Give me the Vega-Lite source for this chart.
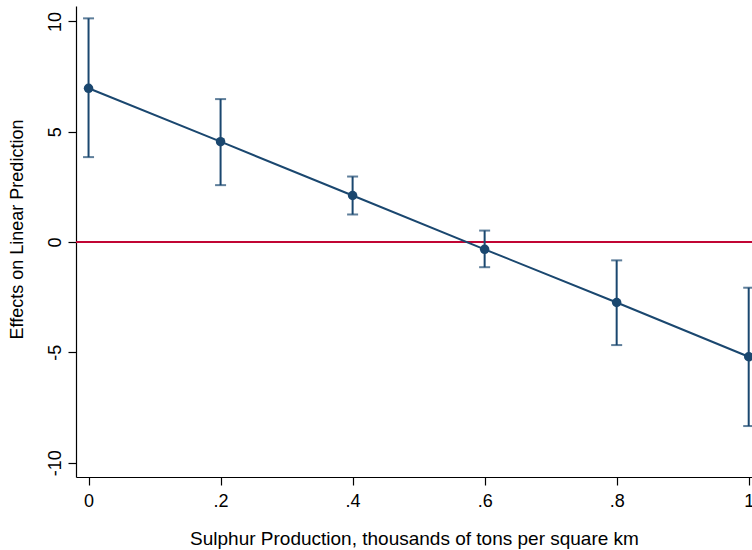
{
  "$schema": "https://vega.github.io/schema/vega-lite/v6.json",
  "width": 676,
  "height": 471,
  "autosize": "none",
  "padding": {"left": 76, "top": 6, "right": 0, "bottom": 73},
  "background": "white",
  "config": {
    "view": {"stroke": null},
    "font": "Liberation Sans",
    "axis": {
      "grid": false,
      "domainColor": "black",
      "tickColor": "black",
      "labelColor": "black",
      "titleColor": "black",
      "labelFont": "Liberation Sans",
      "titleFont": "Liberation Sans",
      "titleFontWeight": "normal",
      "labelFontSize": 18,
      "titleFontSize": 18,
      "domainWidth": 1.2,
      "tickWidth": 1.2
    }
  },
  "data": {
    "values": [
      {"x": 0.0, "margin": 6.97, "lo": 3.85, "hi": 10.14},
      {"x": 0.2, "margin": 4.55, "lo": 2.58, "hi": 6.48},
      {"x": 0.4, "margin": 2.11, "lo": 1.25, "hi": 2.97},
      {"x": 0.6, "margin": -0.33, "lo": -1.14, "hi": 0.52},
      {"x": 0.8, "margin": -2.74, "lo": -4.67, "hi": -0.83},
      {"x": 1.0, "margin": -5.2, "lo": -8.34, "hi": -2.07}
    ]
  },
  "encoding": {
    "x": {
      "field": "x",
      "type": "quantitative",
      "scale": {"domain": [-0.019, 1.005], "nice": false, "zero": false},
      "axis": {
        "title": "Sulphur Production, thousands of tons per square km",
        "values": [0, 0.2, 0.4, 0.6, 0.8, 1],
        "labelExpr": "datum.value == 0 ? '0' : datum.value == 1 ? '1' : substring(format(datum.value, '.1f'), 1)",
        "tickSize": 8,
        "labelPadding": 7,
        "titleBaseline": "alphabetic",
        "titleY": 67,
        "titleFontSize": 19,
        "labelFlush": false
      }
    }
  },
  "layer": [
    {
      "mark": {"type": "rule", "color": "#c10534", "strokeWidth": 2},
      "encoding": {"y": {"datum": 0, "type": "quantitative"}, "x": null}
    },
    {
      "mark": {"type": "rule", "color": "#1a476f", "strokeWidth": 2},
      "encoding": {
        "y": {
          "field": "lo",
          "type": "quantitative",
          "scale": {"domain": [-10.65, 10.7], "nice": false, "zero": false},
          "axis": {
            "title": "Effects on Linear Prediction",
            "values": [-10, -5, 0, 5, 10],
            "labelExpr": "toString(datum.value)",
            "labelAngle": 270,
            "labelAlign": "center",
            "labelBaseline": "bottom",
            "tickSize": 8,
            "labelPadding": 4,
            "titleX": -50,
            "titleY": 223,
            "titleBaseline": "bottom",
            "titleAngle": 270,
            "titleAlign": "center"
          }
        },
        "y2": {"field": "hi"}
      }
    },
    {
      "mark": {"type": "tick", "orient": "horizontal", "color": "#1a476f", "size": 11, "thickness": 2},
      "encoding": {"y": {"field": "lo", "type": "quantitative"}}
    },
    {
      "mark": {"type": "tick", "orient": "horizontal", "color": "#1a476f", "size": 11, "thickness": 2},
      "encoding": {"y": {"field": "hi", "type": "quantitative"}}
    },
    {
      "mark": {"type": "line", "color": "#1a476f", "strokeWidth": 2},
      "encoding": {"y": {"field": "margin", "type": "quantitative"}}
    },
    {
      "mark": {"type": "point", "filled": true, "color": "#1a476f", "opacity": 1, "size": 90},
      "encoding": {"y": {"field": "margin", "type": "quantitative"}}
    }
  ]
}
